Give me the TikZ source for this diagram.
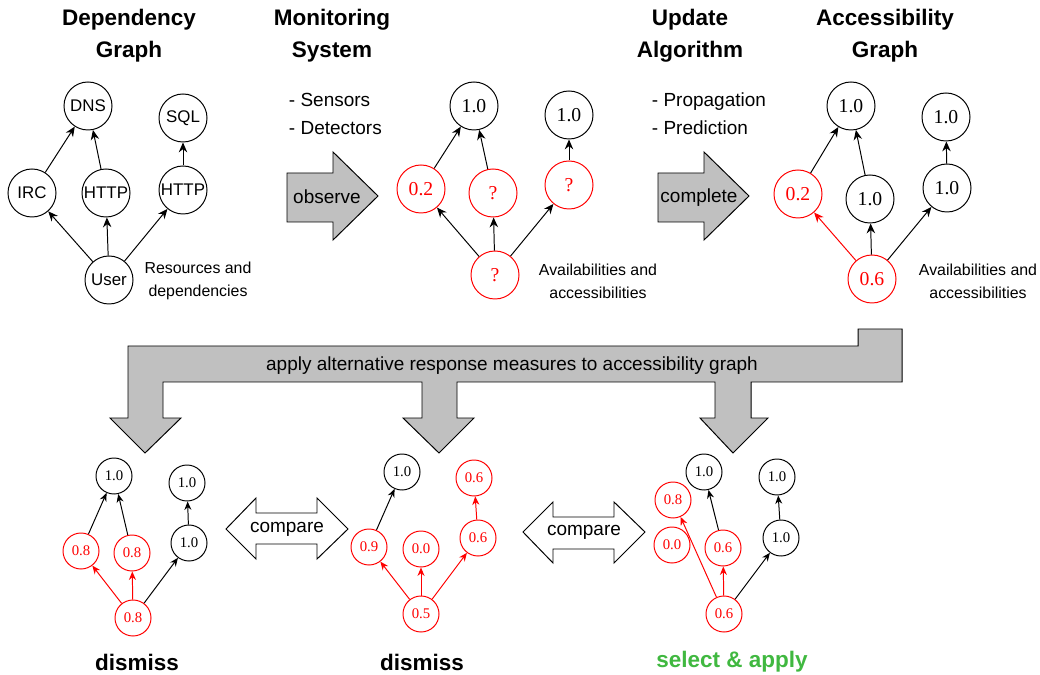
\documentclass[tikz,border=0pt]{standalone}
\usepackage{fontspec}
\setmainfont{Liberation Sans}
\newfontfamily\numfont{Liberation Serif}
\usetikzlibrary{arrows.meta}

\definecolor{arrowgray}{RGB}{192,192,192}
\definecolor{selgreen}{RGB}{64,184,64}

\begin{document}
\begin{tikzpicture}[
    x=0.025cm, y=-0.025cm,
    % Resource node style - sans labels
    res/.style={
        circle,
        draw=black,
        line width=0.7pt,
        minimum size=1.2cm,
        inner sep=0pt,
        font=\fontsize{12}{14}\selectfont
    },
    % Value node style - serif numbers
    val/.style={
        res,
        font=\numfont\fontsize{14}{16}\selectfont
    },
    % Small value node style - bottom graphs
    sval/.style={
        res,
        minimum size=0.9cm,
        font=\numfont\fontsize{10.5}{12}\selectfont
    },
    % Changed value - red
    bad/.style={
        draw=red,
        text=red
    },
    % Dependency arrow style
    dep/.style={
        -{Stealth[length=7pt, width=6pt]},
        line width=0.7pt
    },
    sdep/.style={
        -{Stealth[length=6pt, width=5pt]},
        line width=0.7pt
    },
    % Heading style
    head/.style={
        font=\bfseries\fontsize{16}{22.5}\selectfont,
        align=center
    },
    % Caption style
    note/.style={
        font=\fontsize{11.3}{16.4}\selectfont,
        align=center
    },
    % Step list style
    steps/.style={
        font=\fontsize{13.5}{20}\selectfont,
        align=left,
        anchor=west
    },
    % Block arrow style
    blockarrow/.style={
        draw=black,
        fill=arrowgray,
        line width=0.7pt
    },
    % Compare arrow style
    cmparrow/.style={
        draw=black,
        fill=white,
        line width=0.7pt
    },
    % Arrow label style
    albl/.style={
        font=\fontsize{13.5}{16}\selectfont
    }
]
\useasboundingbox (0,0) rectangle (1040,675);

% === Headings ===
\node[head] (hdep) at (129,36) {Dependency\\Graph};
\node[head] (hmon) at (332,36) {Monitoring\\System};
\node[head] (hupd) at (690,36) {Update\\Algorithm};
\node[head] (hacc) at (885,36) {Accessibility\\Graph};

% === Dependency graph ===
\node[res] (dns) at (88,106) {DNS};
\node[res] (sql) at (183,118) {SQL};
\node[res] (irc) at (32,193) {IRC};
\node[res] (http) at (106,193) {HTTP};
\node[res] (httpb) at (183,190) {HTTP};
\node[res] (user) at (109,280) {User};

\draw[dep] (user) -- (irc);
\draw[dep] (user) -- (http);
\draw[dep] (user) -- (httpb);
\draw[dep] (irc) -- (dns);
\draw[dep] (http) -- (dns);
\draw[dep] (httpb) -- (sql);

\node[note] (ndep) at (198,281) {Resources and\\dependencies};

% === Monitoring ===
\node[steps] (smon) at (284,114) {- Sensors\\- Detectors};
\draw[blockarrow] (287,173) -- (333,173) -- (333,152) -- (378,196)
    -- (333,240) -- (333,222) -- (287,222) -- cycle;
\node[albl] (observe) at (327,197) {observe};

% === Observed graph ===
\node[val] (oa) at (474,106) {1.0};
\node[val] (ob) at (569,115) {1.0};
\node[val, bad] (oc) at (421,189) {0.2};
\node[val, bad] (od) at (493,193) {?};
\node[val, bad] (oe) at (569,185) {?};
\node[val, bad] (of) at (495,275) {?};

\draw[dep] (of) -- (oc);
\draw[dep] (of) -- (od);
\draw[dep] (of) -- (oe);
\draw[dep] (oc) -- (oa);
\draw[dep] (od) -- (oa);
\draw[dep] (oe) -- (ob);

\node[note] (nobs) at (598,281) {Availabilities and\\accessibilities};

% === Update algorithm ===
\node[steps] (supd) at (647,114) {- Propagation\\- Prediction};
\draw[blockarrow] (658,173) -- (704,173) -- (704,152) -- (749,196)
    -- (704,240) -- (704,222) -- (658,222) -- cycle;
\node[albl] (complete) at (699,198) {complete};

% === Accessibility graph ===
\node[val] (aa) at (851,106) {1.0};
\node[val] (ab) at (946,117) {1.0};
\node[val, bad] (ac) at (798,194) {0.2};
\node[val] (ad) at (870,199) {1.0};
\node[val] (ae) at (947,188) {1.0};
\node[val, bad] (af) at (872,279) {0.6};

\draw[dep, red] (af) -- (ac);
\draw[dep] (af) -- (ad);
\draw[dep] (af) -- (ae);
\draw[dep] (ac) -- (aa);
\draw[dep] (ad) -- (aa);
\draw[dep] (ae) -- (ab);

\node[note] (nacc) at (978,281) {Availabilities and\\accessibilities};

% === Response measures arrow ===
\draw[blockarrow] (128,346) -- (858,346) -- (858,329) -- (902,329) -- (902,382)
    -- (751,382) -- (751,418) -- (768,418) -- (733,453) -- (700,418) -- (715,418)
    -- (715,382) -- (457,382) -- (457,418) -- (474,418) -- (439,453) -- (403,418)
    -- (422,418) -- (422,382) -- (163,382) -- (163,418) -- (181,418) -- (145,453)
    -- (110,418) -- (128,418) -- cycle;
\node[albl] (apply) at (512,366) {apply alternative response measures to accessibility graph};

% === Measure 1 ===
\node[sval] (pa) at (114,476) {1.0};
\node[sval] (pb) at (187,483) {1.0};
\node[sval, bad] (pc) at (81,551) {0.8};
\node[sval, bad] (pd) at (132,553) {0.8};
\node[sval] (pe) at (189,543) {1.0};
\node[sval, bad] (pf) at (133,618) {0.8};

\draw[sdep, red] (pf) -- (pc);
\draw[sdep, red] (pf) -- (pd);
\draw[sdep] (pf) -- (pe);
\draw[sdep] (pc) -- (pa);
\draw[sdep] (pd) -- (pa);
\draw[sdep] (pe) -- (pb);

\node[head] (dis1) at (137,662) {dismiss};

% === Measure 2 ===
\node[sval] (qa) at (402,472) {1.0};
\node[sval, bad] (qb) at (474,478) {0.6};
\node[sval, bad] (qc) at (369,547) {0.9};
\node[sval, bad] (qd) at (421,549) {0.0};
\node[sval, bad] (qe) at (478,538) {0.6};
\node[sval, bad] (qf) at (421,614) {0.5};

\draw[sdep, red] (qf) -- (qc);
\draw[sdep, red] (qf) -- (qd);
\draw[sdep, red] (qf) -- (qe);
\draw[sdep] (qc) -- (qa);
\draw[sdep, red] (qe) -- (qb);

\node[head] (dis2) at (422,662) {dismiss};

% === Measure 3 ===
\node[sval] (ra) at (704,472) {1.0};
\node[sval] (rb) at (777,477) {1.0};
\node[sval, bad] (rc) at (673,500) {0.8};
\node[sval, bad] (rg) at (672,545) {0.0};
\node[sval, bad] (rd) at (723,548) {0.6};
\node[sval] (re) at (781,538) {1.0};
\node[sval, bad] (rf) at (724,614) {0.6};

\draw[sdep, red] (rf) -- (rc);
\draw[sdep, red] (rf) -- (rd);
\draw[sdep] (rf) -- (re);
\draw[sdep] (rd) -- (ra);
\draw[sdep] (re) -- (rb);

\node[head, text=selgreen] (sel) at (732,662) {select \& apply};

% === Compare arrows ===
\draw[cmparrow] (226,529) -- (256,498) -- (256,513) -- (317,513) -- (317,498)
    -- (348,529) -- (317,559) -- (317,544) -- (256,544) -- (256,559) -- cycle;
\node[albl] (cmpa) at (287,529) {compare};

\draw[cmparrow] (523,532) -- (553,502) -- (553,517) -- (614,517) -- (614,502)
    -- (645,532) -- (614,563) -- (614,549) -- (553,549) -- (553,563) -- cycle;
\node[albl] (cmpb) at (584,532) {compare};

\end{tikzpicture}
\end{document}
